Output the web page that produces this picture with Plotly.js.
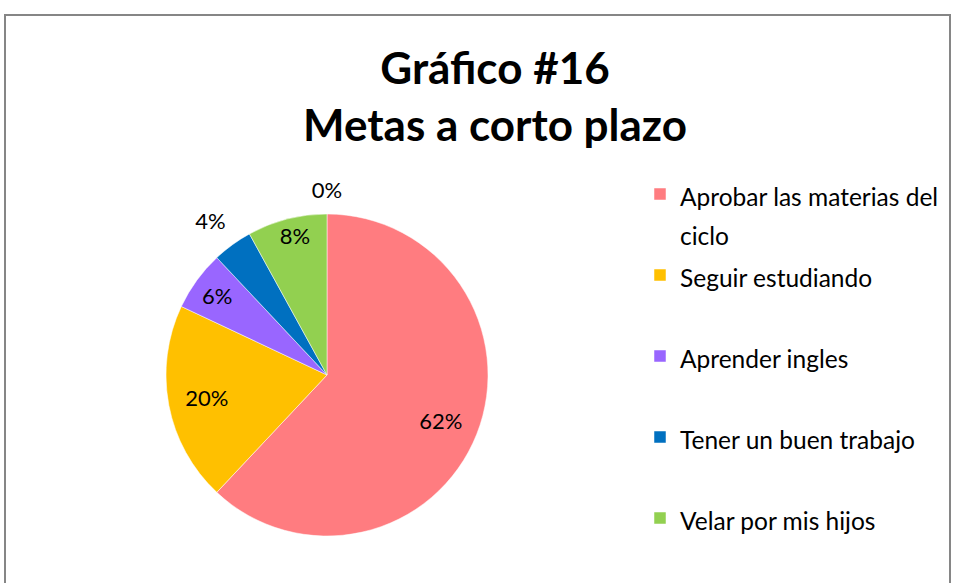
<!DOCTYPE html>
<html>
<head>
<meta charset="utf-8">
<script src="https://cdn.plot.ly/plotly-3.0.1.min.js"></script>
<style>html,body{margin:0;padding:0;background:#fff;}#chart{width:955px;height:583px;}</style>
</head>
<body>
<div id="chart"></div>
<script>
// ---- data ----
const categories = ['Aprobar las materias del ciclo', 'Seguir estudiando', 'Aprender ingles', 'Tener un buen trabajo', 'Velar por mis hijos'];
const values = [62, 20, 6, 4, 8];
const zeroCategories = ['Otro'];
const zeroValues = [0];
const sliceColors = ['#FF7C80', '#FFC000', '#9966FF', '#0070C0', '#92D050'];
const titleLines = ['Gráfico #16', 'Metas a corto plazo'];

// ---- label placement (style, not data): text position and which overlay draws each label ----
const labelPositions = ['inside', 'inside', 'inside', 'outside', 'inside', 'outside'];
const labelLayer = [0, 0, 0, 1, 1, 2];
const layerShift = [[0, 0], [0, -15], [-22, -11]];

// ---- legend label formatting (wrap + uniform two-line entries) ----
function wrap(s, maxChars) {
  const words = s.split(' ');
  const lines = [];
  let cur = '';
  words.forEach(w => {
    if (cur && (cur + ' ' + w).length > maxChars) { lines.push(cur); cur = w; }
    else cur = cur ? cur + ' ' + w : w;
  });
  if (cur) lines.push(cur);
  return lines;
}
function fmt(s) {
  const lines = wrap(s, 24).map(l => '<span style="font-size:24.5px">' + l + '</span>');
  while (lines.length < 2) lines.push(' ');
  return lines.join('<br>');
}
const labels = categories.map(fmt);
const allLabels = labels.concat(zeroCategories.map(fmt));
const allValues = values.concat(zeroValues);

const W = 955, H = 583;
const cx = 327, cy = 375, R = 161;
function dom(dx, dy) {
  return {
    x: [(cx + dx - R) / W, (cx + dx + R) / W],
    y: [(H - cy - dy - R) / H, (H - cy - dy + R) / H]
  };
}
const labelFont = { family: 'Lato', size: 22, color: '#000000' };

// coloured slices + legend
const sliceTrace = {
  type: 'pie',
  labels: labels,
  values: values,
  sort: false,
  direction: 'clockwise',
  rotation: 0,
  domain: dom(0, 0),
  marker: { colors: sliceColors, line: { color: '#ffffff', width: 0.5 } },
  textinfo: 'none',
  showlegend: true
};

// transparent overlays that only carry the percentage labels
const labelTraces = layerShift.map((s, k) => ({
  type: 'pie',
  labels: allLabels,
  values: allValues,
  sort: false,
  direction: 'clockwise',
  rotation: 0,
  hole: 0.52,
  domain: dom(s[0], s[1]),
  marker: { colors: allValues.map(() => 'rgba(0,0,0,0)'), line: { width: 0 } },
  texttemplate: allValues.map((v, i) => labelLayer[i] === k ? '%{percent}' : ''),
  textposition: labelPositions,
  insidetextorientation: 'horizontal',
  insidetextfont: labelFont,
  outsidetextfont: labelFont,
  showlegend: false
}));

const layout = {
  width: W,
  height: H,
  margin: { l: 0, r: 0, t: 0, b: 0 },
  paper_bgcolor: '#ffffff',
  font: { family: 'Lato', color: '#000000' },
  title: {
    text: titleLines.join('<br>'),
    font: { family: 'Lato', size: 44, weight: 'bold', color: '#000000' },
    x: 495 / W,
    xanchor: 'center',
    y: 1 - 84 / H,
    yanchor: 'middle',
    yref: 'container'
  },
  legend: {
    x: 640 / W,
    xanchor: 'left',
    y: 1 - 168 / H,
    yanchor: 'top',
    valign: 'top',
    font: { family: 'Lato', size: 30, color: '#000000' },
    bgcolor: 'rgba(0,0,0,0)'
  },
  shapes: [{
    type: 'rect', xref: 'paper', yref: 'paper',
    x0: 5 / W, x1: 950 / W, y0: -0.2, y1: 1 - 15 / H,
    line: { color: '#868686', width: 2 }, fillcolor: 'rgba(0,0,0,0)'
  }]
};

Plotly.newPlot('chart', [sliceTrace].concat(labelTraces), layout, { displayModeBar: false, staticPlot: true });
</script>
</body>
</html>
